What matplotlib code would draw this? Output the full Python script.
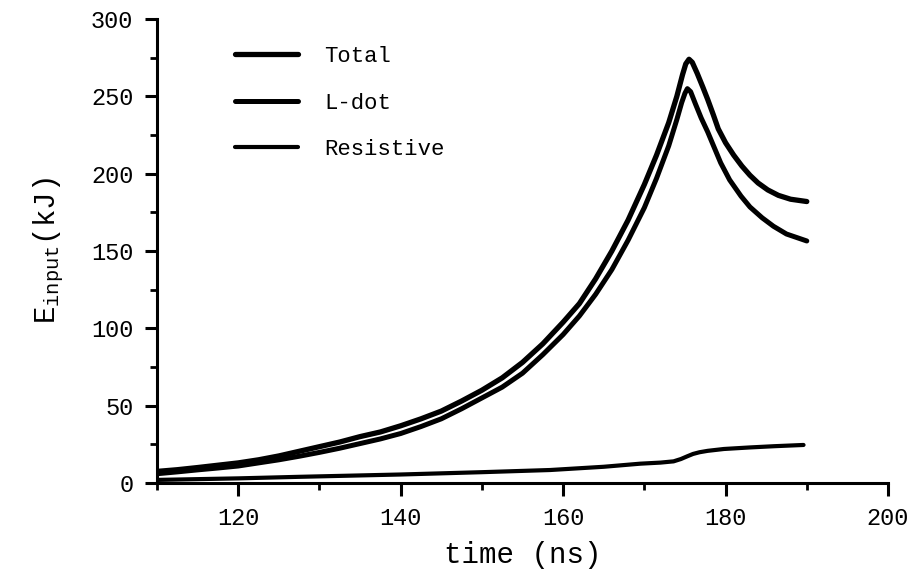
"""
Input energy vs time: total, L-dot and resistive contributions.
Values read off the reference figure.
"""

import matplotlib
matplotlib.use("Agg")
import matplotlib.pyplot as plt
from matplotlib.ticker import MultipleLocator

# time (ns) and energy (kJ) for each curve
t_total = [110, 112.5, 115, 117.5, 120, 122.5, 125, 127.5, 130, 132.5, 135, 137.5, 140,
           142.5, 145, 147.5, 150, 152.5, 155, 157.5, 160, 162, 164, 166, 168, 170, 171.5,
           173, 174, 174.7, 175.1, 175.5, 175.9, 176.5, 177.2, 177.8, 178.5, 179.1, 180,
           181, 182, 183, 184, 185.2, 186.5, 188, 190]
e_total = [7.5, 8.6, 10, 11.5, 13, 15, 17.5, 20.5, 23.5, 26.5, 30, 33, 37,
           41.5, 46.5, 53, 60, 68, 78, 90, 104, 116, 132, 150, 170, 193, 212,
           233, 250, 264, 271, 274, 272, 265, 256, 248, 238, 229, 220,
           212, 205, 199, 194, 189.5, 186, 183.5, 182]

t_ldot = [110, 112.5, 115, 117.5, 120, 122.5, 125, 127.5, 130, 132.5, 135, 137.5, 140,
          142.5, 145, 147.5, 150, 152.5, 155, 157.5, 160, 162, 164, 166, 168, 170, 171.5,
          173, 174, 174.6, 175, 175.3, 175.7, 176.3, 177, 177.8, 178.6, 179.4, 180.5,
          181.9, 183, 184.5, 185.9, 187.5, 190]
e_ldot = [6, 7.2, 8.5, 9.7, 11, 13, 15, 17.3, 19.8, 22.5, 25.5, 28.5, 32,
          36.5, 41.5, 48, 55, 62, 71, 83, 96, 108, 122, 138, 157, 178, 197,
          218, 235, 246, 252, 255, 253, 245, 236, 227, 217, 207, 196,
          185.5, 178.5, 171.5, 166, 161, 156.5]

t_res = [110, 120, 127.5, 140, 150, 158.4, 165, 169.5, 172, 173.6, 174.5, 175.3, 176,
         176.8, 177.8, 179.8, 183, 186, 189.6]
e_res = [2, 3, 4, 5.5, 7, 8.4, 10.5, 12.5, 13.2, 14, 15.5, 17.3, 18.8,
         19.9, 20.8, 22, 23, 23.8, 24.6]

x_ticks = [120, 140, 160, 180, 200]
y_ticks = [0, 50, 100, 150, 200, 250, 300]

MONO = "Liberation Mono"
plt.rcParams["font.family"] = [MONO, "DejaVu Sans"]
plt.rcParams["mathtext.fontset"] = "custom"
plt.rcParams["mathtext.rm"] = MONO
plt.rcParams["mathtext.it"] = MONO

fig = plt.figure(figsize=(9.15, 5.77), dpi=100)
ax = fig.add_axes([0.1716, 0.1629, 0.7989, 0.8041])

line_kw = dict(color="black", solid_capstyle="round", solid_joinstyle="round")
ax.plot(t_total, e_total, lw=3.8, label="Total", **line_kw)
ax.plot(t_ldot, e_ldot, lw=3.6, label="L-dot", **line_kw)
ax.plot(t_res, e_res, lw=3.0, label="Resistive", **line_kw)

ax.set_xlim(110, 200)
ax.set_ylim(0, 300)
ax.set_xticks(x_ticks)
ax.set_yticks(y_ticks)
ax.xaxis.set_minor_locator(MultipleLocator(10))
ax.yaxis.set_minor_locator(MultipleLocator(25))

for side in ("top", "right"):
    ax.spines[side].set_visible(False)
for side in ("left", "bottom"):
    ax.spines[side].set_linewidth(2.2)

ax.tick_params(which="major", direction="out", length=9, width=2.2, labelsize=17, pad=8)
ax.tick_params(which="minor", direction="out", length=5, width=2.0)

ax.set_xlabel("time (ns)", fontsize=21, labelpad=8)
ax.set_ylabel(r"$\mathrm{E}_{\mathrm{input}}$(kJ)", fontsize=21, labelpad=18)

ax.legend(loc="upper left", bbox_to_anchor=(0.08, 0.985), frameon=False, fontsize=16,
          handlelength=2.8, handletextpad=1.2, labelspacing=1.15)

fig.savefig("out.png", dpi=100)
